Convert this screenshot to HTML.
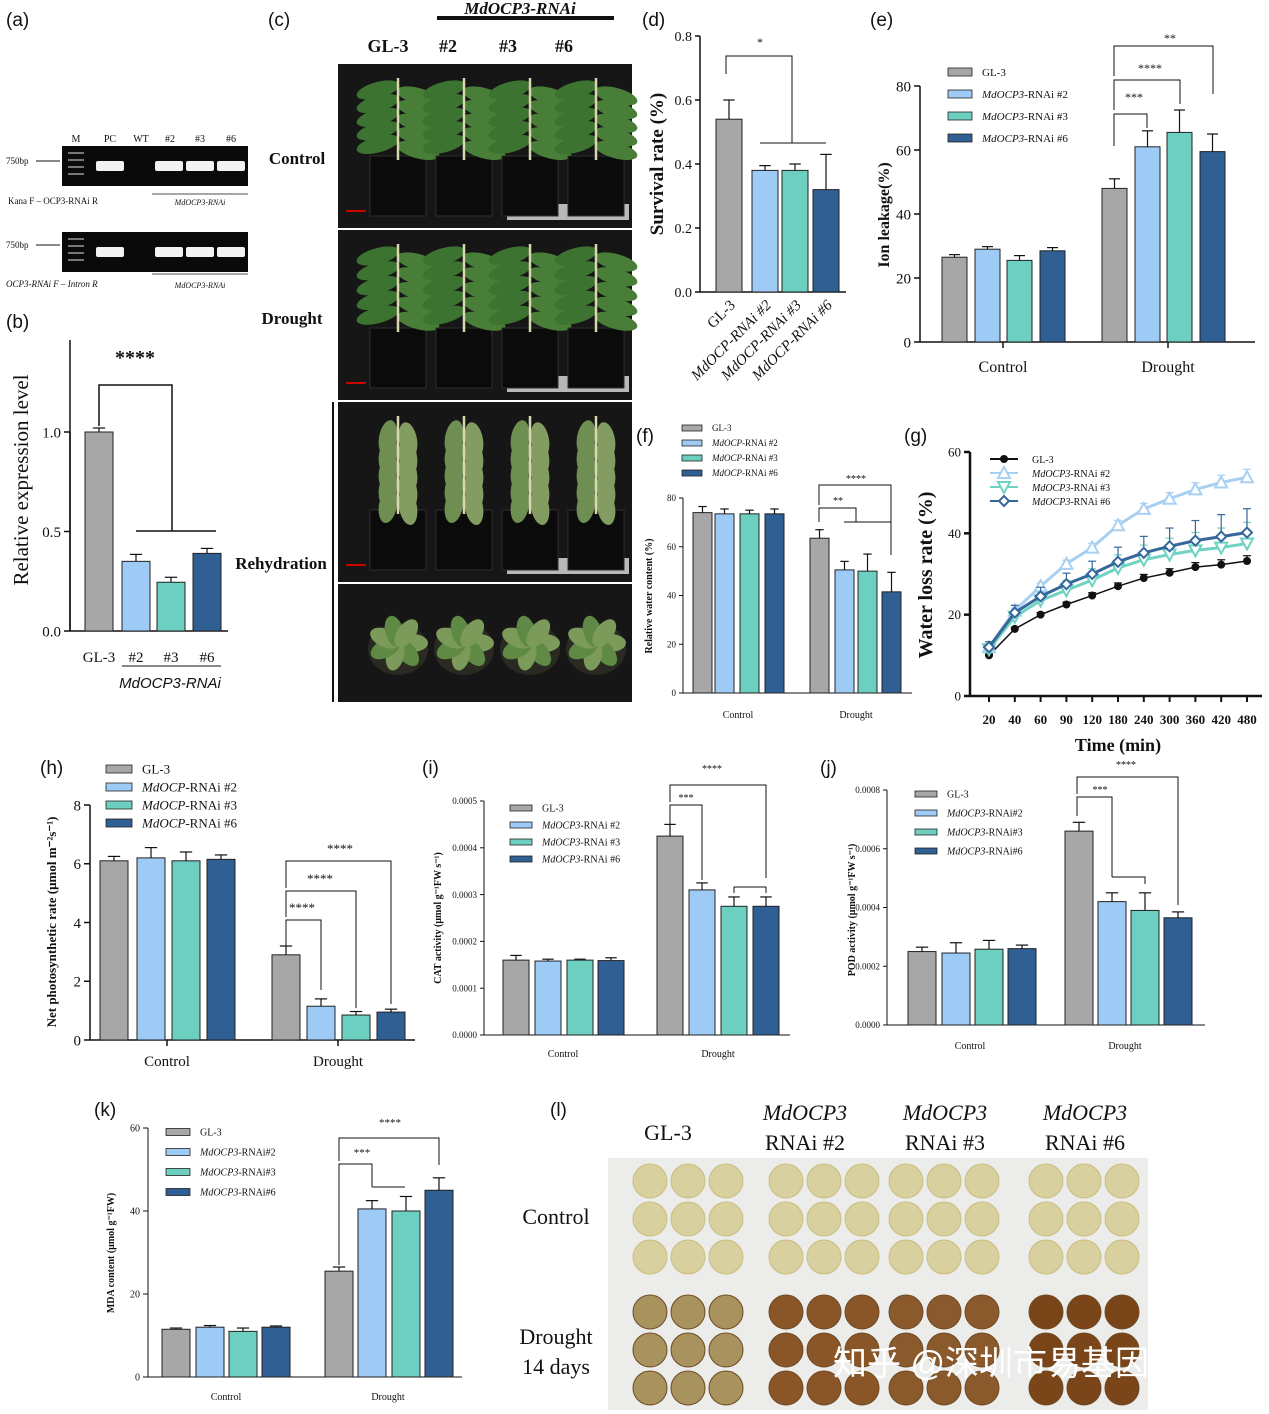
<!DOCTYPE html>
<html><head><meta charset="utf-8">
<style>
html,body{margin:0;padding:0;background:#fff;}
svg{display:block;font-family:"Liberation Serif",serif;}
</style></head>
<body>
<svg id="fig" width="1269" height="1414" viewBox="0 0 1269 1414" xmlns="http://www.w3.org/2000/svg"></svg>
<script>
// ---------- data ----------
const groupNames = ["Control","Drought"];
// (b)
const bCats = ["GL-3","#2","#3","#6"];
const bVals = [1.0,0.35,0.245,0.39];
const bErr = [0.02,0.035,0.025,0.025];
const bTicks = [0.0,0.5,1.0];
// (d)
const dCats = ["GL-3","MdOCP-RNAi #2","MdOCP-RNAi #3","MdOCP-RNAi #6"];
const dVals = [0.54,0.38,0.38,0.32];
const dErr = [0.06,0.015,0.02,0.11];
const dTicks = [0.0,0.2,0.4,0.6,0.8];
// (e)
const eControl = [26.5,29,25.5,28.5];
const eDrought = [48,61,65.5,59.5];
const eErrC = [0.8,0.8,1.5,1];
const eErrD = [3,5,7,5.5];
const eTicks = [0,20,40,60,80];
// (f)
const fControl = [74,73.5,73.5,73.5];
const fDrought = [63.5,50.5,50,41.5];
const fErrC = [2.5,2,1.5,2];
const fErrD = [3.5,3.5,7,8];
const fTicks = [0,20,40,60,80];
// (g)
const gTimes = ["20","40","60","90","120","180","240","300","360","420","480"];
const gGL3 = [10,16.5,20,22.5,24.7,27,29,30.3,31.7,32.3,33.2];
const gR2 = [12,21,27,32.5,36.5,42,46,48.5,50.8,52.5,53.8];
const gR3 = [11.5,19.5,23.5,26,28.5,31.5,33.5,34.8,35.8,36.5,37.5];
const gR6 = [12,20.5,24.5,27.5,30,33,35.2,36.8,38.2,39.2,40.2];
const gTicks = [0,20,40,60];
// (h)
const hControl = [6.1,6.2,6.1,6.15];
const hDrought = [2.9,1.15,0.85,0.95];
const hErrC = [0.15,0.35,0.3,0.15];
const hErrD = [0.3,0.25,0.12,0.1];
const hTicks = [0,2,4,6,8];
// (i)
const iControl = [0.00016,0.000158,0.00016,0.000159];
const iDrought = [0.000425,0.00031,0.000275,0.000275];
const iErrC = [0.00001,0.000004,0.000002,0.000006];
const iErrD = [0.000025,0.000015,0.00002,0.00002];
const iTicks = [0,0.0001,0.0002,0.0003,0.0004,0.0005];
// (j)
const jControl = [0.00025,0.000245,0.000258,0.00026];
const jDrought = [0.00066,0.00042,0.00039,0.000365];
const jErrC = [0.000015,0.000035,0.00003,0.000012];
const jErrD = [0.00003,0.00003,0.00006,0.00002];
const jTicks = [0,0.0002,0.0004,0.0006,0.0008];
// (k)
const kControl = [11.5,12,11,12];
const kDrought = [25.5,40.5,40,45];
const kErrC = [0.3,0.4,0.8,0.3];
const kErrD = [1,2,3.5,3];
const kTicks = [0,20,40,60];

const COLORS = ["#a7a7a7","#9ecbf6","#6ccfc0","#2f5f93"];
const NS = "http://www.w3.org/2000/svg";
const svg = document.getElementById("fig");

function el(tag, attrs, parent, text){
  const e = document.createElementNS(NS, tag);
  for (const k in attrs) e.setAttribute(k, attrs[k]);
  if (text !== undefined) e.textContent = text;
  (parent||svg).appendChild(e);
  return e;
}
function scale(v0,v1,p0,p1){ return v => p0 + (v-v0)/(v1-v0)*(p1-p0); }
function txt(x,y,s,size,opts){
  opts = opts||{};
  const t = el("text",{x:x,y:y,"font-size":size,"text-anchor":opts.anchor||"start",fill:opts.fill||"#111","font-weight":opts.bold?"bold":"normal","font-style":opts.italic?"italic":"normal","font-family":opts.sans?'"Liberation Sans",sans-serif':'"Liberation Serif",serif'},opts.parent,s);
  if (opts.rotate) t.setAttribute("transform","rotate("+opts.rotate+" "+x+" "+y+")");
  
  
  return t;
}
function line(x1,y1,x2,y2,w,c){
  const l = el("line",{x1:x1,y1:y1,x2:x2,y2:y2,stroke:c||"#111","stroke-width":w||1});
  
  
  return l;
}
function poly(pts,w){
  const p = el("polyline",{points:pts.map(a=>a.join(",")).join(" "),fill:"none",stroke:"#111","stroke-width":w||1});
  
  
}
function bar(x,w,val,err,ys,color,name){
  const y0 = ys(0), y1 = ys(val);
  const r = el("rect",{x:x,y:y1,width:w,height:y0-y1,fill:color,stroke:"#222","stroke-width":1});
  
  
  if (err){
    const ye = ys(val+err);
    line(x+w/2,y1,x+w/2,ye,1.2);
    line(x+w/2-w*0.22,ye,x+w/2+w*0.22,ye,1.2);
  }
}
function yAxis(x,ys,ticks,fmt,size,tickLen,w){
  line(x,ys(ticks[0]),x,ys(ticks[ticks.length-1]),w||1.5);
  ticks.forEach(t=>{
    line(x-(tickLen||5),ys(t),x,ys(t),w||1.5);
    txt(x-(tickLen||5)-3,ys(t)+size*0.35,fmt(t),size,{anchor:"end",name:"y-tick-label"});
  });
}
function grouped(ctrl,drt,errC,errD,ys,xC,xD,bw,prefix){
  ctrl.forEach((v,i)=>bar(xC[i],bw,v,errC[i],ys,COLORS[i],prefix+"-control-bar-"+(i+1)));
  drt.forEach((v,i)=>bar(xD[i],bw,v,errD[i],ys,COLORS[i],prefix+"-drought-bar-"+(i+1)));
}
function legend(x,y,dy,labels,size,sw,sh){
  labels.forEach((lb,i)=>{
    const r = el("rect",{x:x,y:y+i*dy-sh/2,width:sw,height:sh,fill:COLORS[i],stroke:"#222","stroke-width":0.8});
    
    
    const t = el("text",{x:x+sw+10,y:y+i*dy+size*0.35,"font-size":size,fill:"#111"},null);
    
    
    if (i===0){ t.textContent = lb; }
    else {
      const parts = lb.split("|");
      el("tspan",{"font-style":"italic"},t,parts[0]);
      el("tspan",{},t,parts[1]);
    }
  });
}
function panelLabel(x,y,s){ txt(x,y,s,19,{sans:true,name:"panel-label"}); }

// ---------- (a) ----------
panelLabel(6,26,"(a)");
function gel(x,y,w,h,lanes){
  const r = el("rect",{x:x,y:y,width:w,height:h,fill:"#0a0a0a"});
   
  lanes.forEach(lx=>{
    const b = el("rect",{x:lx,y:y+h*0.5-5,width:28,height:10,fill:"#f2f2f2",rx:2});
     
  });
  for(let i=0;i<4;i++){ const m=el("rect",{x:x+6,y:y+6+i*7,width:16,height:2,fill:"#777"});  }
}
["M","PC","WT","#2","#3","#6"].forEach((s,i)=>txt([76,110,141,170,200,231][i],142,s,10,{anchor:"middle",fill:"#111",name:"lane-label"}));
gel(62,146,186,40,[96,155,186,217]);
txt(6,164,"750bp",9,{}); line(36,161,60,161,1);
txt(8,204,"Kana F – OCP3-RNAi R",9,{});
line(152,194,248,194,0.8); txt(200,205,"MdOCP3-RNAi",8,{anchor:"middle",italic:true});
gel(62,232,186,40,[96,155,186,217]);
txt(6,248,"750bp",9,{}); line(36,245,60,245,1);
txt(6,287,"OCP3-RNAi F – Intron R",9,{italic:true});
line(152,274,248,274,0.8); txt(200,288,"MdOCP3-RNAi",8,{anchor:"middle",italic:true});

// ---------- (b) ----------
panelLabel(6,328,"(b)");
{
  const ys = scale(0,1.0,631,432);
  yAxis(70,ys,bTicks,v=>v.toFixed(1),15,6,1.5);
  line(70,ys(0),70,340,1.5);
  line(70,631,228,631,1.5);
  const xs=[85,122,157,193];
  bVals.forEach((v,i)=>bar(xs[i],28,v,bErr[i],ys,COLORS[i],"b-bar-"+bCats[i]));
  bCats.forEach((c,i)=>txt(xs[i]+14,662,c,15,{anchor:"middle",name:"x-tick-label"}));
  line(122,666,221,666,1);
  txt(170,688,"MdOCP3-RNAi",15,{anchor:"middle",italic:true,sans:true});
  txt(28,480,"Relative expression level",21,{anchor:"middle",rotate:-90,name:"y-axis-title"});
  poly([[99,426],[99,385],[172,385],[172,531]],1.5);
  poly([[136,531],[216,531]],1.5);
  txt(135,364,"****",20,{anchor:"middle",bold:true});
}

// ---------- (c) ----------
panelLabel(268,26,"(c)");
txt(388,52,"GL-3",18,{anchor:"middle",bold:true});
["#2","#3","#6"].forEach((s,i)=>txt([448,508,564][i],52,s,18,{anchor:"middle",bold:true}));
line(437,18,614,18,4);
txt(520,14,"MdOCP3-RNAi",17,{anchor:"middle",bold:true,italic:true});
function leaf(cx,cy,rx,ry,rot,col){
  const l = el("ellipse",{cx:cx,cy:cy,rx:rx,ry:ry,fill:col,transform:`rotate(${rot} ${cx} ${cy})`});
   
}
function photo(x,y,w,h,kind){
  const r = el("rect",{x:x,y:y,width:w,height:h,fill:"#161616"});
   
  if (kind!=="top"){
    const ru = el("rect",{x:x+w-125,y:y+h-24,width:122,height:16,fill:"#b8b8b8"});
     
    const sb = el("rect",{x:x+8,y:y+h-18,width:20,height:2,fill:"#c00"});
     
  }
  [0,1,2,3].forEach(i=>{
    const cx = x+60+i*66;
    if (kind==="top"){
      const pot = el("ellipse",{cx:cx,cy:y+h*0.55,rx:30,ry:26,fill:"#2a2a22"});
       
      for(let k=0;k<7;k++){ const a=k*51; leaf(cx+Math.cos(a*Math.PI/180)*14,y+h*0.5+Math.sin(a*Math.PI/180)*12,16,9,a,k%2?"#5f8a45":"#7c9a5a"); }
      return;
    }
    const potTop = y+h-72;
    const pot = el("rect",{x:cx-28,y:potTop,width:56,height:60,fill:"#0b0b0b",stroke:"#2e2e2e"});
     
    const top = y+14;
    const col = kind==="wilt"?"#6f8f52":"#3d7330";
    const n=5;
    for(let k=0;k<n;k++){
      const ly = top+12+k*(potTop-top-10)/n;
      if (kind==="wilt"){
        leaf(cx-10,ly+10,9,18,10,col); leaf(cx+10,ly+12,9,18,-10,"#829c62");
      } else {
        leaf(cx-20,ly,22,8,-15,col); leaf(cx+20,ly+6,22,8,15,"#487e38");
      }
    }
    const st = el("line",{x1:cx,y1:top,x2:cx,y2:potTop+4,stroke:"#d8d8b0","stroke-width":2.5});
     
  });
}
photo(338,64,294,164,"ok");
photo(338,230,294,170,"ok");
photo(338,402,294,180,"wilt");
photo(338,584,294,118,"top");
txt(297,164,"Control",17,{anchor:"middle",bold:true});
txt(292,324,"Drought",17,{anchor:"middle",bold:true});
txt(281,569,"Rehydration",17,{anchor:"middle",bold:true});
line(333,402,333,702,2);

// ---------- (d) ----------
panelLabel(642,26,"(d)");
{
  const ys = scale(0,0.8,292,36);
  yAxis(700,ys,dTicks,v=>v.toFixed(1),14,5,1.5);
  line(700,292,846,292,1.5);
  const xs=[716,752,782,813];
  dVals.forEach((v,i)=>bar(xs[i],26,v,dErr[i],ys,COLORS[i],"d-bar-"+(i+1)));
  dCats.forEach((c,i)=>txt(xs[i]+20,306,c,15,{anchor:"end",rotate:-45,italic:i>0,name:"x-tick-label"}));
  txt(663,164,"Survival rate (%)",19,{anchor:"middle",rotate:-90,bold:true,name:"y-axis-title"});
  poly([[726,74],[726,56],[792,56],[792,143]],1);
  poly([[760,143],[826,143]],1);
  txt(760,46,"*",12,{anchor:"middle"});
}

// ---------- (e) ----------
panelLabel(870,26,"(e)");
{
  const ys = scale(0,80,342,86);
  yAxis(920,ys,eTicks,v=>v,15,6,1.5);
  line(920,342,1255,342,1.5);
  line(1003,342,1003,348,1.5); line(1168,342,1168,348,1.5);
  grouped(eControl,eDrought,eErrC,eErrD,ys,[942,975,1007,1040],[1102,1135,1167,1200],25,"e");
  txt(1003,372,"Control",16,{anchor:"middle"}); txt(1168,372,"Drought",16,{anchor:"middle"});
  txt(889,215,"Ion leakage(%)",16,{anchor:"middle",rotate:-90,bold:true,name:"y-axis-title"});
  legend(948,72,22,["GL-3","MdOCP3|-RNAi #2","MdOCP3|-RNAi #3","MdOCP3|-RNAi #6"],11,24,8);
  poly([[1114,146],[1114,114],[1147,114],[1147,128]],1); txt(1134,101,"***",12,{anchor:"middle"});
  poly([[1114,110],[1114,80],[1180,80],[1180,104]],1); txt(1150,72,"****",12,{anchor:"middle"});
  poly([[1114,76],[1114,46],[1213,46],[1213,94]],1); txt(1170,42,"**",12,{anchor:"middle"});
}

// ---------- (f) ----------
panelLabel(636,442,"(f)");
{
  const ys = scale(0,80,693,498);
  yAxis(683,ys,fTicks,v=>v,9,4,1);
  line(683,693,912,693,1);
  grouped(fControl,fDrought,fErrC,fErrD,ys,[693,715,740,765],[810,835,858,882],19,"f");
  txt(738,718,"Control",10,{anchor:"middle"}); txt(856,718,"Drought",10,{anchor:"middle"});
  txt(652,596,"Relative water content (%)",10,{anchor:"middle",rotate:-90,bold:true,name:"y-axis-title"});
  legend(682,428,15,["GL-3","MdOCP|-RNAi #2","MdOCP|-RNAi #3","MdOCP|-RNAi #6"],9,20,6);
  poly([[819,522],[819,508],[856,508],[856,522]],1); poly([[844,522],[891,522],[891,540]],1);
  txt(838,504,"**",10,{anchor:"middle"});
  poly([[819,505],[819,485],[891,485],[891,555]],1); txt(856,482,"****",10,{anchor:"middle"});
}

// ---------- (g) ----------
panelLabel(904,442,"(g)");
{
  const ys = scale(0,60,696,452);
  const xs = scale(0,gTimes.length-1,989,1247);
  yAxis(970,ys,gTicks,v=>v,13,6,2.5);
  line(970,696,1262,696,2.5);
  gTimes.forEach((t,i)=>{ line(xs(i),696,xs(i),702,2); txt(xs(i),724,t,13,{anchor:"middle",bold:true,name:"x-tick-label"}); });
  txt(1118,751,"Time (min)",18,{anchor:"middle",bold:true,name:"x-axis-title"});
  txt(932,575,"Water loss rate (%)",20,{anchor:"middle",rotate:-90,bold:true,name:"y-axis-title"});
  const series = [[gGL3,"#111",1.5,"circle"],[gR2,"#a8d0f2",3,"tri"],[gR3,"#6fd2c3",3,"tridown"],[gR6,"#36679b",3,"diamond"]];
  const errs = [1,1.5,4,4.5];
  function marker(kind,x,y,c){
    let m;
    if (kind==="circle") m = el("circle",{cx:x,cy:y,r:4,fill:"#111"});
    else if (kind==="tri") m = el("polygon",{points:`${x},${y-6} ${x-6},${y+5} ${x+6},${y+5}`,fill:"#fff",stroke:c,"stroke-width":2});
    else if (kind==="tridown") m = el("polygon",{points:`${x},${y+6} ${x-6},${y-5} ${x+6},${y-5}`,fill:"#fff",stroke:c,"stroke-width":2});
    else m = el("polygon",{points:`${x},${y-5} ${x+5},${y} ${x},${y+5} ${x-5},${y}`,fill:"#fff",stroke:c,"stroke-width":2});
    
    
  }
  series.forEach((s,si)=>{
    const pts = s[0].map((v,i)=>[xs(i),ys(v)]);
    const p = el("polyline",{points:pts.map(a=>a.join(",")).join(" "),fill:"none",stroke:s[1],"stroke-width":s[2]});
    
    
    s[0].forEach((v,i)=>{
      const x=xs(i), y=ys(v), e=ys(v+errs[si]*(i/10+0.3));
      line(x,y,x,e,1.2,si===0?"#111":s[1]); line(x-4,e,x+4,e,1.2,si===0?"#111":s[1]);
      marker(s[3],x,y,s[1]);
    });
  });
  const labs=["GL-3","MdOCP3|-RNAi #2","MdOCP3|-RNAi #3","MdOCP3|-RNAi #6"];
  labs.forEach((lb,i)=>{
    const y=459+i*14;
    line(990,y,1018,y,2,series[i][1]);
    marker(series[i][3],1004,y,series[i][1]);
    const t = el("text",{x:1032,y:y+4,"font-size":10,fill:"#111"});
     
    if(i===0) t.textContent=lb; else { el("tspan",{"font-style":"italic"},t,lb.split("|")[0]); el("tspan",{},t,lb.split("|")[1]); }
  });
}

// ---------- (h) ----------
panelLabel(40,774,"(h)");
{
  const ys = scale(0,8,1040,805);
  yAxis(90,ys,hTicks,v=>v,15,6,1.5);
  line(90,1040,415,1040,1.5);
  line(167,1040,167,1046,1.5); line(338,1040,338,1046,1.5);
  grouped(hControl,hDrought,hErrC,hErrD,ys,[100,137,172,207],[272,307,342,377],28,"h");
  txt(167,1066,"Control",15,{anchor:"middle"}); txt(338,1066,"Drought",15,{anchor:"middle"});
  txt(56,922,"Net photosynthetic rate (μmol m⁻²s⁻¹)",13,{anchor:"middle",rotate:-90,bold:true,name:"y-axis-title"});
  legend(106,769,18,["GL-3","MdOCP|-RNAi #2","MdOCP|-RNAi #3","MdOCP|-RNAi #6"],13,26,8);
  poly([[286,948],[286,920],[321,920],[321,990]],1); txt(302,912,"****",13,{anchor:"middle"});
  poly([[286,917],[286,891],[356,891],[356,1008]],1); txt(320,883,"****",13,{anchor:"middle"});
  poly([[286,888],[286,861],[391,861],[391,1004]],1); txt(340,853,"****",13,{anchor:"middle"});
}

// ---------- (i) ----------
panelLabel(422,774,"(i)");
{
  const ys = scale(0,0.0005,1035,801);
  yAxis(484,ys,iTicks,v=>v.toFixed(4),9,4,1);
  line(484,1035,790,1035,1);
  grouped(iControl,iDrought,iErrC,iErrD,ys,[503,535,567,598],[657,689,721,753],26,"i");
  txt(563,1057,"Control",10,{anchor:"middle"}); txt(718,1057,"Drought",10,{anchor:"middle"});
  txt(441,918,"CAT activity (μmol g⁻¹FW s⁻¹)",10,{anchor:"middle",rotate:-90,bold:true,name:"y-axis-title"});
  legend(510,808,17,["GL-3","MdOCP3|-RNAi #2","MdOCP3|-RNAi #3","MdOCP3|-RNAi #6"],10,22,6);
  poly([[670,825],[670,805],[702,805],[702,880]],1); txt(686,801,"***",10,{anchor:"middle"});
  poly([[670,802],[670,785],[766,785],[766,878]],1); txt(712,772,"****",10,{anchor:"middle"});
  poly([[734,893],[734,887],[766,887],[766,893]],1);
}

// ---------- (j) ----------
panelLabel(820,774,"(j)");
{
  const ys = scale(0,0.0008,1025,790);
  yAxis(887,ys,jTicks,v=>v.toFixed(4),9,4,1);
  line(887,1025,1205,1025,1);
  grouped(jControl,jDrought,jErrC,jErrD,ys,[908,942,975,1008],[1065,1098,1131,1164],28,"j");
  txt(970,1049,"Control",10,{anchor:"middle"}); txt(1125,1049,"Drought",10,{anchor:"middle"});
  txt(855,910,"POD activity (μmol g⁻¹FW s⁻¹)",10,{anchor:"middle",rotate:-90,bold:true,name:"y-axis-title"});
  legend(915,794,19,["GL-3","MdOCP3|-RNAi#2","MdOCP3|-RNAi#3","MdOCP3|-RNAi#6"],10,22,6);
  poly([[1077,816],[1077,797],[1112,797],[1112,877]],1); poly([[1112,877],[1145,877],[1145,884]],1);
  txt(1100,793,"***",10,{anchor:"middle"});
  poly([[1077,794],[1077,777],[1178,777],[1178,905]],1); txt(1126,768,"****",10,{anchor:"middle"});
}

// ---------- (k) ----------
panelLabel(94,1116,"(k)");
{
  const ys = scale(0,60,1377,1128);
  yAxis(148,ys,kTicks,v=>v,10,5,1);
  line(148,1377,462,1377,1);
  grouped(kControl,kDrought,kErrC,kErrD,ys,[162,196,229,262],[325,358,392,425],28,"k");
  txt(226,1400,"Control",10,{anchor:"middle"}); txt(388,1400,"Drought",10,{anchor:"middle"});
  txt(114,1253,"MDA content (μmol g⁻¹FW)",10,{anchor:"middle",rotate:-90,bold:true,name:"y-axis-title"});
  legend(166,1132,20,["GL-3","MdOCP3|-RNAi#2","MdOCP3|-RNAi#3","MdOCP3|-RNAi#6"],10,24,7);
  poly([[339,1265],[339,1164],[372,1164],[372,1187]],1); poly([[372,1187],[405,1187]],1);
  poly([[339,1161],[339,1138],[439,1138],[439,1165]],1);
  txt(362,1156,"***",11,{anchor:"middle"}); txt(390,1126,"****",11,{anchor:"middle"});
}

// ---------- (l) ----------
panelLabel(550,1116,"(l)");
{
  txt(668,1140,"GL-3",22,{anchor:"middle"});
  [805,945,1085].forEach((x,i)=>{
    txt(x,1120,"MdOCP3",22,{anchor:"middle",italic:true});
    txt(x,1150,"RNAi #"+[2,3,6][i],22,{anchor:"middle"});
  });
  txt(556,1224,"Control",22,{anchor:"middle"});
  txt(556,1344,"Drought",22,{anchor:"middle"});
  txt(556,1374,"14 days",22,{anchor:"middle"});
  const bg = el("rect",{x:608,y:1158,width:540,height:252,fill:"#ececea"});
   
  const gx=[632,768,888,1028];
  const dCol=["#a8925e","#8a5527","#8b5a2c","#7a4519"];
  gx.forEach((x0,g)=>{
    for(let r=0;r<3;r++)for(let c=0;c<3;c++){
      const a = el("circle",{cx:x0+18+c*38,cy:1181+r*38,r:17,fill:"#d8d09e",stroke:"#c9bd80","stroke-width":1});
       
      const b = el("circle",{cx:x0+18+c*38,cy:1312+r*38,r:17,fill:dCol[g],stroke:"#6e4a22","stroke-width":1});
       
    }
  });
  const w = txt(1025,1375,"知乎 @深圳市易基因科技",34,{anchor:"middle",fill:"#ffffff",name:"watermark"});
  w.setAttribute("font-family",'"Liberation Sans","Noto Sans CJK SC",sans-serif');
}
</script>
</body></html>
